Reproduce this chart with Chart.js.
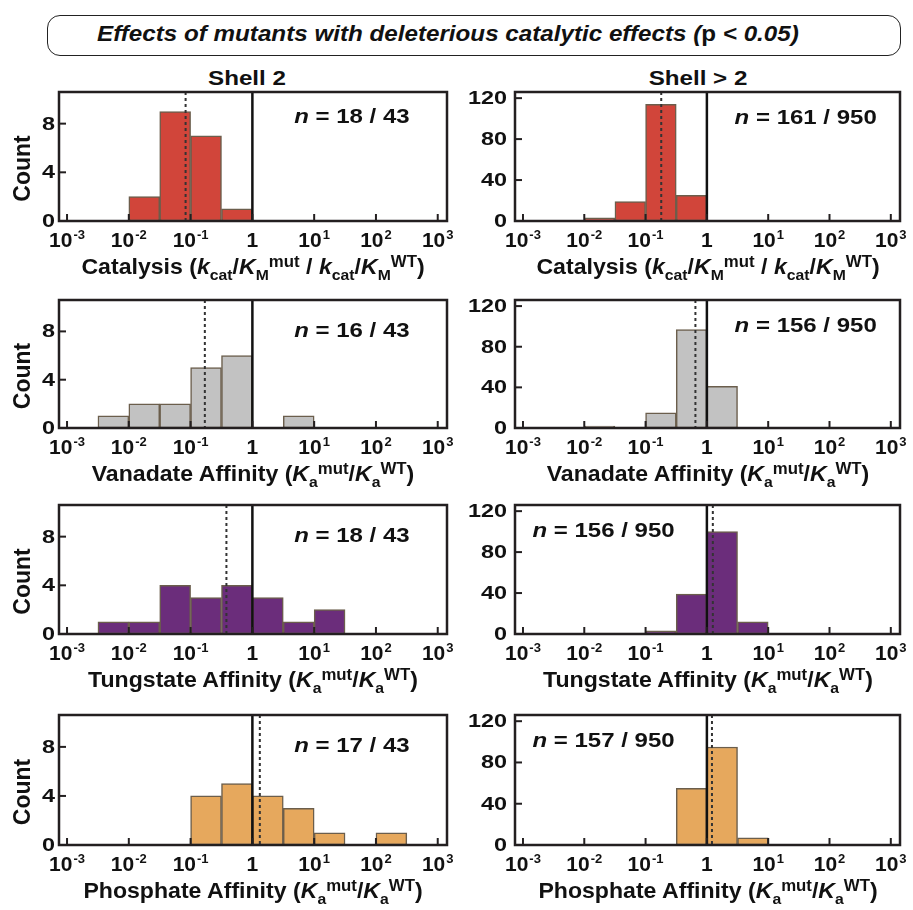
<!DOCTYPE html>
<html>
<head>
<meta charset="utf-8">
<script src="https://cdn.jsdelivr.net/npm/chart.js@4.4.0/dist/chart.umd.min.js"></script>
<style>
  body { margin:0; background:#fff; width:913px; height:910px; position:relative; overflow:hidden;
         font-family:"Liberation Sans", Arial, sans-serif; color:#111; }
  .box { position:absolute; left:47px; top:15px; width:852px; height:39px;
         border:1.5px solid #222; border-radius:13px; }
  .txt { position:absolute; font-weight:bold; white-space:nowrap; line-height:1; }
  .ctr { transform:translateX(-50%) scaleX(1.05); }
  .wide { transform:translateX(-50%) scaleX(1.15); }
  canvas { position:absolute; }
  .sub { font-size:15px; position:relative; top:6px; }
  .sup { font-size:16px; position:relative; top:-7px; }
</style>
</head>
<body>
<div class="box"></div>
<div class="txt" style="left:97px; top:23px; font-size:22px; font-style:italic; transform-origin:0 0; transform:scaleX(1.1);">Effects of mutants with deleterious catalytic effects (<span style="font-style:normal">p</span> &lt; 0.05)</div>
<div class="txt wide" style="left:247px; top:67px; font-size:21px;">Shell 2</div>
<div class="txt wide" style="left:698px; top:67px; font-size:21px;">Shell &gt; 2</div>

<script>
// ---- data (bins are half-decades, given by log10 of the lower edge) ----
const decades = [-3, -2, -1, 0, 1, 2, 3];
const binWidth = 0.5;
const refValue = 1;

const catS2Bins = [-2, -1.5, -1, -0.5];
const catS2Counts = [2, 9, 7, 1];
const catS3Bins = [-2, -1.5, -1, -0.5];
const catS3Counts = [3, 19, 114, 25];

const vanS2Bins = [-2.5, -2, -1.5, -1, -0.5, 0.5];
const vanS2Counts = [1, 2, 2, 5, 6, 1];
const vanS3Bins = [-2, -1.5, -1, -0.5, 0];
const vanS3Counts = [2, 1, 15, 97, 41];

const tungS2Bins = [-2.5, -2, -1.5, -1, -0.5, 0, 0.5, 1];
const tungS2Counts = [1, 1, 4, 3, 4, 3, 1, 2];
const tungS3Bins = [-2, -1.5, -1, -0.5, 0, 0.5];
const tungS3Counts = [1, 1, 3, 39, 100, 12];

const phosS2Bins = [-1, -0.5, 0, 0.5, 1, 2];
const phosS2Counts = [4, 5, 4, 3, 1, 1];
const phosS3Bins = [-0.5, 0, 0.5];
const phosS3Counts = [55, 95, 7];

// medians (dotted lines)
const medianS2 = [0.083, 0.17, 0.38, 1.32];
const medianS3 = [0.18, 0.65, 1.25, 1.21];

const nLabelS2 = ['18 / 43', '16 / 43', '18 / 43', '17 / 43'];
const nLabelS3 = ['161 / 950', '156 / 950', '156 / 950', '157 / 950'];

const yMaxS2 = 10.6, yStepS2 = 4;
const yMaxS3 = 126, yStepS3 = 40;

// ---- styles / layout ----
const fillColors = ['#D1453A', '#C2C2C2', '#6B2D7B', '#E6A85D'];
const barEdge = '#6B5E4C';
const frameColor = '#231F20';
const FONT = '"Liberation Sans", Arial, sans-serif';

const xTitles = [
  'Catalysis (<i>k</i><span class="sub">cat</span>/<i>K</i><span class="sub">M</span><span class="sup">mut</span> / <i>k</i><span class="sub">cat</span>/<i>K</i><span class="sub">M</span><span class="sup">WT</span>)',
  'Vanadate Affinity (<i>K</i><span class="sub">a</span><span class="sup">mut</span>/<i>K</i><span class="sub">a</span><span class="sup">WT</span>)',
  'Tungstate Affinity (<i>K</i><span class="sub">a</span><span class="sup">mut</span>/<i>K</i><span class="sub">a</span><span class="sup">WT</span>)',
  'Phosphate Affinity (<i>K</i><span class="sub">a</span><span class="sup">mut</span>/<i>K</i><span class="sub">a</span><span class="sup">WT</span>)'
];

const rowPlot = [[92, 221], [300, 428], [505, 634], [715, 845]];
const colLayout = [
  { x: 0, w: 455, yAxisW: 59, padR: 8, tickPad: 4 },
  { x: 455, w: 458, yAxisW: 60, padR: 13, tickPad: 8 }
];
const padTop = 22, xAxisH = 34;
const xMinExp = -3.13, xMaxExp = 3.15;

const bins = [[catS2Bins, catS3Bins], [vanS2Bins, vanS3Bins], [tungS2Bins, tungS3Bins], [phosS2Bins, phosS3Bins]];
const counts = [[catS2Counts, catS3Counts], [vanS2Counts, vanS3Counts], [tungS2Counts, tungS3Counts], [phosS2Counts, phosS3Counts]];

const panels = [];
for (let r = 0; r < 4; r++) {
  for (let c = 0; c < 2; c++) {
    panels.push({
      row: r, col: c,
      bins: bins[r][c], counts: counts[r][c],
      median: c === 0 ? medianS2[r] : medianS3[r],
      n: c === 0 ? nLabelS2[r] : nLabelS3[r],
      color: fillColors[r],
      yMax: c === 0 ? yMaxS2 : yMaxS3,
      yStep: c === 0 ? yStepS2 : yStepS3,
      nFrac: (c === 1 && r >= 2) ? 0.23 : 0.755,
      nDy: c === 0 ? (r === 0 ? 31 : 37) : 32
    });
  }
}

function line(ctx, x1, y1, x2, y2) {
  ctx.beginPath(); ctx.moveTo(x1, y1); ctx.lineTo(x2, y2); ctx.stroke();
}

function makeDeco(p, L) {
  return {
    id: 'deco' + p.row + p.col,
    afterDatasetsDraw(chart) {
      const { ctx, chartArea: a, scales: { x, y } } = chart;
      ctx.save();
      // median (dotted) and reference (solid) lines
      const xm = x.getPixelForValue(p.median);
      ctx.strokeStyle = '#333'; ctx.lineWidth = 2; ctx.setLineDash([3, 3]);
      line(ctx, xm, a.top, xm, a.bottom);
      ctx.setLineDash([]);
      const xr = x.getPixelForValue(refValue);
      ctx.strokeStyle = '#111'; ctx.lineWidth = 2.5;
      line(ctx, xr, a.top, xr, a.bottom);
      // frame
      ctx.strokeStyle = frameColor; ctx.lineWidth = 2.5;
      ctx.strokeRect(a.left, a.top, a.right - a.left, a.bottom - a.top);
      // inward tick marks
      ctx.lineWidth = 2;
      decades.forEach(d => {
        const px = x.getPixelForValue(Math.pow(10, d));
        line(ctx, px, a.bottom, px, a.bottom - 7);
      });
      y.ticks.forEach(t => {
        const py = y.getPixelForValue(t.value);
        line(ctx, a.left, py, a.left + 7, py);
      });
      ctx.fillStyle = '#111';
      // y tick labels (wide bold digits)
      ctx.font = 'bold 18px ' + FONT;
      ctx.textAlign = 'right';
      ctx.textBaseline = 'middle';
      y.ticks.forEach(t => {
        const py = y.getPixelForValue(t.value);
        ctx.save();
        ctx.translate(a.left - L.tickPad, py + 1);
        ctx.scale(1.3, 1);
        ctx.fillText(String(t.value), 0, 0);
        ctx.restore();
      });
      // x tick labels 10^k
      ctx.textBaseline = 'alphabetic';
      ctx.textAlign = 'left';
      const base = a.bottom + 26;
      decades.forEach(d => {
        const px = x.getPixelForValue(Math.pow(10, d));
        const main = d === 0 ? '1' : '10';
        const exp = d === 0 ? '' : String(d);
        ctx.font = 'bold 21px ' + FONT;
        const w1 = ctx.measureText(main).width;
        ctx.font = 'bold 13px ' + FONT;
        const w2 = exp ? ctx.measureText(exp).width + 1 : 0;
        const x0 = px - (w1 + w2) / 2;
        ctx.font = 'bold 21px ' + FONT;
        ctx.fillText(main, x0, base);
        if (exp) {
          ctx.font = 'bold 13px ' + FONT;
          ctx.fillText(exp, x0 + w1 + 1, base - 8);
        }
      });
      // n label
      const sx = 1.2;
      ctx.font = 'italic bold 20px ' + FONT;
      const wn = ctx.measureText('n').width;
      ctx.font = 'bold 20px ' + FONT;
      const rest = ' = ' + p.n;
      const wr = ctx.measureText(rest).width;
      const cx = a.left + p.nFrac * (a.right - a.left);
      ctx.save();
      ctx.translate(cx - sx * (wn + wr) / 2, a.top + p.nDy);
      ctx.scale(sx, 1);
      ctx.font = 'italic bold 20px ' + FONT;
      ctx.fillText('n', 0, 0);
      ctx.font = 'bold 20px ' + FONT;
      ctx.fillText(rest, wn, 0);
      ctx.restore();
      // y axis title
      if (p.col === 0) {
        ctx.save();
        ctx.translate(24, (a.top + a.bottom) / 2 + 12);
        ctx.rotate(-Math.PI / 2);
        ctx.textAlign = 'center';
        ctx.textBaseline = 'middle';
        ctx.font = 'bold 23px ' + FONT;
        ctx.fillText('Count', 0, 0);
        ctx.restore();
      }
      ctx.restore();
    }
  };
}

panels.forEach(p => {
  const [top, bottom] = rowPlot[p.row];
  const L = colLayout[p.col];
  const cv = document.createElement('canvas');
  cv.width = L.w;
  cv.height = padTop + (bottom - top) + xAxisH;
  cv.style.left = L.x + 'px';
  cv.style.top = (top - padTop) + 'px';
  document.body.appendChild(cv);

  new Chart(cv, {
    type: 'bar',
    data: {
      datasets: [{
        data: p.bins.map((lo, k) => ({ x: Math.pow(10, lo + binWidth / 2), y: p.counts[k] })),
        backgroundColor: p.color,
        borderColor: barEdge,
        borderWidth: 1.5,
        borderSkipped: false,
        barPercentage: 1,
        categoryPercentage: 1
      }]
    },
    options: {
      responsive: false,
      animation: false,
      events: [],
      layout: { padding: { top: padTop, right: L.padR, left: 0, bottom: 0 } },
      plugins: { legend: { display: false }, tooltip: { enabled: false } },
      scales: {
        x: {
          type: 'logarithmic',
          min: Math.pow(10, xMinExp),
          max: Math.pow(10, xMaxExp),
          offset: false,
          grid: { display: false, drawTicks: false, offset: false },
          border: { display: false },
          ticks: { display: false },
          afterBuildTicks: s => { s.ticks = decades.map(d => ({ value: Math.pow(10, d) })); },
          afterFit: s => { s.height = xAxisH; }
        },
        y: {
          min: 0,
          max: p.yMax,
          grid: { display: false, drawTicks: false },
          border: { display: false },
          ticks: { display: false, stepSize: p.yStep, includeBounds: false },
          afterFit: s => { s.width = L.yAxisW; }
        }
      }
    },
    plugins: [makeDeco(p, L)]
  });

  // x-axis title as HTML text (sub/superscripts)
  const t = document.createElement('div');
  t.className = 'txt ctr';
  t.style.fontSize = '22px';
  t.style.left = (L.x + L.yAxisW + (L.w - L.padR - L.yAxisW) / 2) + 'px';
  t.style.top = (bottom + 54 - 18.6) + 'px';
  t.innerHTML = xTitles[p.row];
  document.body.appendChild(t);
});
</script>
</body>
</html>
